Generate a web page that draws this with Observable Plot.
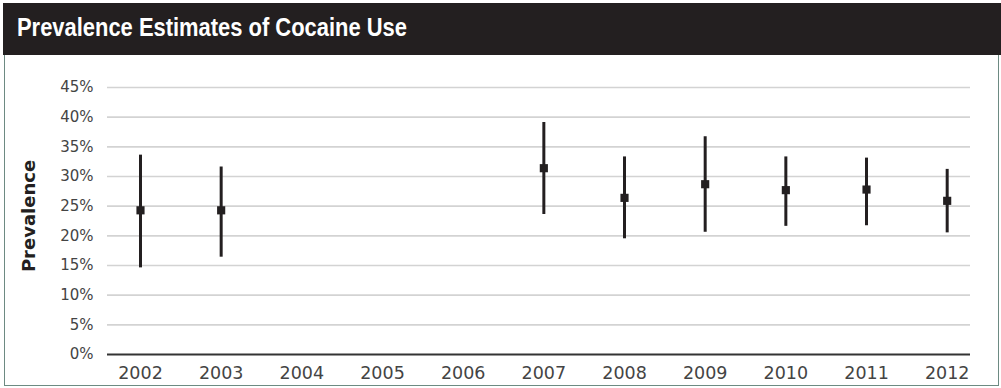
<!DOCTYPE html>
<html>
<head>
<meta charset="utf-8">
<script src="https://cdn.jsdelivr.net/npm/d3@7"></script>
<script src="https://cdn.jsdelivr.net/npm/@observablehq/plot@0.6"></script>
<style>
  html, body { margin: 0; padding: 0; background: #fff; }
  #wrap { position: relative; width: 1001px; height: 388px; overflow: hidden; background: #fff; }
  #frame { position: absolute; left: 4px; top: 50px; width: 995px; height: 336px; border: 1.5px solid #6d8a82; box-sizing: border-box; }
  #title { position: absolute; left: 3px; top: 3px; width: 998px; height: 52px; background: #231f20; overflow: hidden; }
  #title span { position: absolute; left: 14px; top: 10px; color: #fff; font-family: "Liberation Sans", Arial, sans-serif; font-weight: bold; font-size: 25px; line-height: 29px; white-space: nowrap; transform: scaleX(0.877); transform-origin: left top; }
  #chart { position: absolute; left: 0; top: 55px; }
</style>
</head>
<body>
<div id="wrap">
  <div id="frame"></div>
  <div id="title"><span>Prevalence Estimates of Cocaine Use</span></div>
  <div id="chart"></div>
</div>
<script>
const titleText = "Prevalence Estimates of Cocaine Use";
const yLabel = "Prevalence";
const tickYears = [2002, 2003, 2004, 2005, 2006, 2007, 2008, 2009, 2010, 2011, 2012];
const yTicks = [0, 0.05, 0.10, 0.15, 0.20, 0.25, 0.30, 0.35, 0.40, 0.45];
const years = [2002, 2003, 2007, 2008, 2009, 2010, 2011, 2012];
const estimate = [0.243, 0.243, 0.314, 0.264, 0.287, 0.277, 0.278, 0.259];
const lower = [0.146, 0.164, 0.236, 0.195, 0.206, 0.216, 0.217, 0.205];
const upper = [0.336, 0.316, 0.391, 0.333, 0.367, 0.333, 0.331, 0.312];

const data = years.map((y, i) => ({year: y, est: estimate[i], lo: lower[i], hi: upper[i]}));

const chart = Plot.plot({
  width: 1001,
  height: 333,
  marginLeft: 107,
  marginRight: 31,
  marginTop: 32,
  marginBottom: 34,
  style: {background: "transparent", fontFamily: "DejaVu Sans, sans-serif", color: "#444"},
  x: {domain: [2001.591, 2012.289], ticks: tickYears, tickFormat: d => String(d)},
  y: {domain: [0, 0.45], ticks: yTicks, tickFormat: d => Math.round(d * 100) + "%"},
  marks: [
    Plot.ruleY(yTicks.filter(d => d > 0), {stroke: "#d3d3d3", strokeWidth: 1.6}),
    Plot.ruleY([0], {stroke: "#333", strokeWidth: 2}),
    Plot.axisY({ticks: yTicks, tickSize: 0, tickPadding: 14, fontSize: 15, fill: "#444", label: null, tickFormat: d => Math.round(d * 100) + "%"}),
    Plot.axisX({ticks: tickYears, tickSize: 0, tickPadding: 12, fontSize: 17.5, fill: "#444", label: null, tickFormat: d => String(d)}),
    Plot.ruleX(data, {x: "year", y1: "lo", y2: "hi", stroke: "#231f20", strokeWidth: 3}),
    Plot.dot(data, {x: "year", y: "est", symbol: "square", r: 4.6, fill: "#231f20", stroke: "none"})
  ]
});
document.getElementById("chart").appendChild(chart);

// rotated axis label
const svg = d3.select(chart);
svg.append("text")
  .attr("transform", "translate(35,161) rotate(-90)")
  .attr("text-anchor", "middle")
  .attr("font-family", "DejaVu Sans, sans-serif")
  .attr("font-weight", "bold")
  .attr("font-size", 18)
  .attr("fill", "#231f20")
  .text(yLabel);
</script>
</body>
</html>
